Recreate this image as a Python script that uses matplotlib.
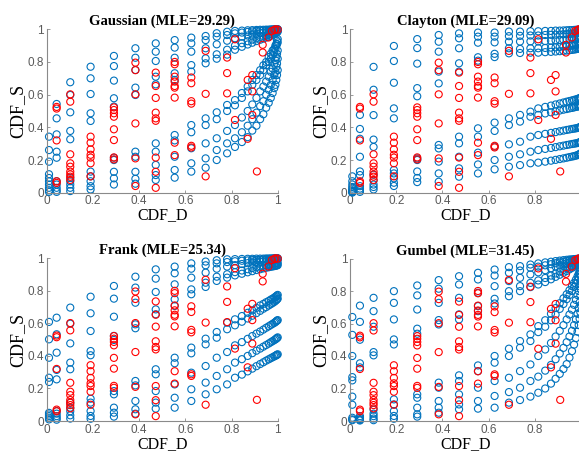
import matplotlib.pyplot as plt

# --- data ---
# x columns (empirical CDF of D) where the simulated points sit
x_cols = [0.01, 0.043, 0.102, 0.19, 0.291, 0.384, 0.472, 0.554, 0.626, 0.688, 0.736, 0.781, 0.815,
          0.845, 0.87, 0.89, 0.908, 0.924, 0.938, 0.95, 0.961, 0.97, 0.978, 0.985, 0.99, 0.994, 0.997, 1.0]

# simulated CDF_S values, one row per band, one value per x column
gaussian_sim = [
    [0.343, 0.543, 0.676, 0.771, 0.837, 0.884, 0.914, 0.934, 0.949, 0.959, 0.976, 0.985, 0.99,
     0.992, 0.994, 0.995, 0.996, 0.997, 0.997, 0.998, 0.998, 0.999, 0.999, 0.999, 1.0, 1.0, 1.0, 1.0],
    [0.261, 0.455, 0.598, 0.70, 0.775, 0.826, 0.863, 0.888, 0.914, 0.934, 0.955, 0.965, 0.975,
     0.98, 0.984, 0.987, 0.99, 0.992, 0.993, 0.994, 0.995, 0.996, 0.997, 0.998, 0.998, 0.999, 0.999, 1.0],
    [0.19, 0.357, 0.492, 0.604, 0.686, 0.751, 0.806, 0.826, 0.863, 0.884, 0.908, 0.93, 0.945,
     0.955, 0.962, 0.968, 0.973, 0.977, 0.98, 0.983, 0.986, 0.988, 0.99, 0.992, 0.994, 0.995, 0.997, 0.998],
    [0.113, 0.251, 0.378, 0.486, 0.578, 0.643, 0.71, 0.731, 0.781, 0.822, 0.847, 0.875, 0.90,
     0.915, 0.927, 0.937, 0.945, 0.952, 0.958, 0.963, 0.968, 0.972, 0.976, 0.98, 0.983, 0.986, 0.989, 0.992],
    [0.09, 0.214, 0.327, 0.439, 0.527, 0.598, 0.663, 0.69, 0.741, 0.792, 0.82, 0.845, 0.875,
     0.893, 0.907, 0.918, 0.928, 0.936, 0.943, 0.95, 0.955, 0.96, 0.965, 0.97, 0.974, 0.978, 0.982, 0.986],
    [0.07, 0.07, 0.09, 0.129, 0.214, 0.251, 0.302, 0.353, 0.414, 0.455, 0.492, 0.537, 0.567,
     0.61, 0.65, 0.69, 0.72, 0.75, 0.78, 0.80, 0.83, 0.85, 0.87, 0.88, 0.90, 0.91, 0.93, 0.94],
    [0.05, 0.05, 0.07, 0.10, 0.20, 0.22, 0.251, 0.32, 0.37, 0.414, 0.45, 0.50, 0.535,
     0.58, 0.62, 0.66, 0.69, 0.72, 0.75, 0.78, 0.80, 0.82, 0.84, 0.86, 0.88, 0.90, 0.91, 0.92],
    [0.03, 0.03, 0.05, 0.07, 0.128, 0.128, 0.17, 0.22, 0.272, 0.302, 0.333, 0.378, 0.414,
     0.46, 0.50, 0.54, 0.58, 0.62, 0.65, 0.68, 0.71, 0.74, 0.76, 0.79, 0.81, 0.83, 0.85, 0.87],
    [0.015, 0.015, 0.03, 0.04, 0.088, 0.085, 0.108, 0.139, 0.18, 0.21, 0.261, 0.302, 0.333,
     0.37, 0.41, 0.45, 0.49, 0.53, 0.56, 0.60, 0.63, 0.66, 0.69, 0.72, 0.74, 0.77, 0.79, 0.82],
    [0.005, 0.005, 0.01, 0.02, 0.05, 0.055, 0.078, 0.092, 0.129, 0.153, 0.20, 0.241, 0.28,
     0.31, 0.34, 0.38, 0.41, 0.45, 0.48, 0.52, 0.55, 0.58, 0.61, 0.64, 0.66, 0.69, 0.72, 0.75],
]

clayton_sim = [
    [0.10, 0.476, 0.77, 0.898, 0.94, 0.965, 0.975, 0.98, 0.98, 0.986, 0.986, 0.988, 0.988,
     0.99, 0.99, 0.992, 0.992, 0.993, 0.994, 0.995, 0.995, 0.996, 0.997, 0.997, 0.998, 0.999, 0.999, 1.0],
    [0.07, 0.39, 0.63, 0.806, 0.885, 0.924, 0.945, 0.955, 0.955, 0.958, 0.96, 0.962, 0.962,
     0.965, 0.966, 0.967, 0.968, 0.97, 0.97, 0.972, 0.973, 0.975, 0.976, 0.977, 0.978, 0.98, 0.982, 0.985],
    [0.05, 0.33, 0.475, 0.673, 0.79, 0.863, 0.884, 0.918, 0.92, 0.924, 0.925, 0.926, 0.926,
     0.928, 0.93, 0.932, 0.934, 0.936, 0.938, 0.94, 0.942, 0.944, 0.946, 0.948, 0.95, 0.952, 0.954, 0.956],
    [0.035, 0.22, 0.325, 0.516, 0.64, 0.741, 0.792, 0.829, 0.85, 0.884, 0.88, 0.884, 0.884,
     0.886, 0.888, 0.89, 0.892, 0.894, 0.896, 0.898, 0.9, 0.902, 0.904, 0.906, 0.908, 0.91, 0.912, 0.914],
    [0.025, 0.13, 0.28, 0.455, 0.59, 0.669, 0.741, 0.808, 0.83, 0.853, 0.855, 0.857, 0.857,
     0.86, 0.862, 0.864, 0.866, 0.868, 0.87, 0.872, 0.874, 0.876, 0.878, 0.88, 0.882, 0.884, 0.886, 0.888],
    [0.015, 0.108, 0.11, 0.139, 0.21, 0.292, 0.343, 0.394, 0.429, 0.455, 0.476, 0.496, 0.516,
     0.525, 0.533, 0.54, 0.546, 0.552, 0.557, 0.561, 0.565, 0.568, 0.571, 0.574, 0.576, 0.578, 0.58, 0.582],
    [0.01, 0.04, 0.075, 0.118, 0.20, 0.271, 0.302, 0.343, 0.378, 0.414, 0.435, 0.465, 0.476,
     0.485, 0.492, 0.498, 0.503, 0.508, 0.512, 0.516, 0.519, 0.522, 0.525, 0.527, 0.529, 0.531, 0.533, 0.535],
    [0.006, 0.025, 0.05, 0.088, 0.13, 0.19, 0.22, 0.245, 0.282, 0.296, 0.312, 0.343, 0.353,
     0.36, 0.366, 0.371, 0.376, 0.38, 0.384, 0.387, 0.39, 0.392, 0.394, 0.396, 0.398, 0.4, 0.402, 0.404],
    [0.003, 0.015, 0.035, 0.061, 0.09, 0.118, 0.149, 0.173, 0.20, 0.22, 0.235, 0.251, 0.261,
     0.268, 0.274, 0.279, 0.284, 0.288, 0.292, 0.295, 0.298, 0.3, 0.302, 0.304, 0.306, 0.308, 0.31, 0.312],
    [0.001, 0.005, 0.02, 0.041, 0.065, 0.067, 0.098, 0.118, 0.143, 0.159, 0.169, 0.18, 0.184,
     0.19, 0.196, 0.201, 0.206, 0.21, 0.214, 0.218, 0.221, 0.224, 0.227, 0.23, 0.233, 0.236, 0.239, 0.242],
]

frank_sim = [
    [0.609, 0.635, 0.697, 0.764, 0.83, 0.887, 0.932, 0.949, 0.969, 0.98, 0.988, 0.994, 0.995,
     0.996, 0.997, 0.997, 0.998, 0.998, 0.998, 0.999, 0.999, 0.999, 0.999, 1.0, 1.0, 1.0, 1.0, 1.0],
    [0.502, 0.533, 0.598, 0.662, 0.752, 0.82, 0.875, 0.908, 0.936, 0.957, 0.969, 0.977, 0.982,
     0.985, 0.987, 0.989, 0.99, 0.991, 0.992, 0.993, 0.994, 0.995, 0.996, 0.996, 0.997, 0.997, 0.998, 0.998],
    [0.389, 0.42, 0.477, 0.553, 0.641, 0.727, 0.793, 0.84, 0.881, 0.912, 0.936, 0.949, 0.958,
     0.965, 0.97, 0.974, 0.977, 0.979, 0.981, 0.983, 0.984, 0.985, 0.986, 0.987, 0.988, 0.989, 0.99, 0.99],
    [0.266, 0.314, 0.359, 0.43, 0.523, 0.594, 0.686, 0.748, 0.809, 0.85, 0.887, 0.902, 0.915,
     0.925, 0.933, 0.94, 0.945, 0.95, 0.954, 0.957, 0.96, 0.962, 0.964, 0.966, 0.968, 0.969, 0.97, 0.971],
    [0.24, 0.256, 0.318, 0.404, 0.498, 0.57, 0.656, 0.707, 0.779, 0.824, 0.861, 0.881, 0.895,
     0.905, 0.914, 0.921, 0.928, 0.933, 0.938, 0.942, 0.945, 0.948, 0.95, 0.952, 0.954, 0.956, 0.957, 0.958],
    [0.05, 0.061, 0.113, 0.137, 0.184, 0.246, 0.318, 0.389, 0.451, 0.506, 0.547, 0.605, 0.625,
     0.645, 0.665, 0.68, 0.695, 0.71, 0.72, 0.73, 0.738, 0.746, 0.752, 0.758, 0.763, 0.767, 0.771, 0.775],
    [0.04, 0.045, 0.082, 0.113, 0.164, 0.219, 0.287, 0.355, 0.416, 0.471, 0.512, 0.564, 0.588,
     0.61, 0.63, 0.647, 0.663, 0.677, 0.69, 0.7, 0.71, 0.718, 0.725, 0.732, 0.738, 0.743, 0.748, 0.752],
    [0.03, 0.03, 0.06, 0.061, 0.082, 0.123, 0.184, 0.225, 0.297, 0.338, 0.389, 0.424, 0.465,
     0.485, 0.505, 0.522, 0.537, 0.55, 0.562, 0.573, 0.582, 0.59, 0.597, 0.603, 0.608, 0.613, 0.617, 0.62],
    [0.02, 0.018, 0.035, 0.031, 0.051, 0.072, 0.113, 0.143, 0.195, 0.236, 0.277, 0.318, 0.359,
     0.38, 0.4, 0.417, 0.432, 0.445, 0.457, 0.467, 0.476, 0.484, 0.491, 0.497, 0.502, 0.506, 0.51, 0.514],
    [0.01, 0.008, 0.015, 0.014, 0.027, 0.045, 0.076, 0.082, 0.123, 0.164, 0.195, 0.225, 0.266,
     0.285, 0.305, 0.322, 0.337, 0.35, 0.361, 0.371, 0.379, 0.386, 0.392, 0.397, 0.401, 0.404, 0.407, 0.41],
]

gumbel_sim = [
    [0.64, 0.71, 0.758, 0.799, 0.834, 0.867, 0.891, 0.912, 0.932, 0.947, 0.953, 0.963, 0.97,
     0.976, 0.98, 0.984, 0.987, 0.99, 0.992, 0.994, 0.995, 0.996, 0.997, 0.998, 0.999, 0.999, 1.0, 1.0],
    [0.53, 0.61, 0.676, 0.727, 0.773, 0.814, 0.84, 0.871, 0.895, 0.912, 0.926, 0.943, 0.95,
     0.958, 0.965, 0.971, 0.976, 0.98, 0.984, 0.987, 0.99, 0.992, 0.994, 0.995, 0.996, 0.997, 0.998, 0.999],
    [0.40, 0.50, 0.58, 0.625, 0.686, 0.727, 0.758, 0.789, 0.83, 0.861, 0.881, 0.902, 0.915,
     0.928, 0.94, 0.95, 0.958, 0.965, 0.971, 0.976, 0.98, 0.984, 0.987, 0.99, 0.992, 0.994, 0.996, 0.998],
    [0.27, 0.355, 0.424, 0.502, 0.568, 0.621, 0.656, 0.707, 0.752, 0.799, 0.83, 0.85, 0.865,
     0.88, 0.895, 0.908, 0.92, 0.93, 0.94, 0.948, 0.956, 0.963, 0.969, 0.975, 0.98, 0.985, 0.99, 0.994],
    [0.25, 0.33, 0.404, 0.471, 0.537, 0.594, 0.625, 0.676, 0.723, 0.768, 0.799, 0.824, 0.84,
     0.855, 0.872, 0.887, 0.9, 0.912, 0.923, 0.933, 0.942, 0.95, 0.958, 0.965, 0.971, 0.977, 0.983, 0.989],
    [0.15, 0.03, 0.07, 0.133, 0.164, 0.236, 0.281, 0.342, 0.40, 0.445, 0.492, 0.533, 0.584,
     0.62, 0.66, 0.695, 0.725, 0.755, 0.78, 0.805, 0.83, 0.85, 0.87, 0.89, 0.905, 0.92, 0.94, 0.955],
    [0.10, 0.02, 0.045, 0.102, 0.143, 0.205, 0.246, 0.307, 0.359, 0.40, 0.451, 0.492, 0.547,
     0.58, 0.62, 0.655, 0.69, 0.72, 0.75, 0.775, 0.8, 0.825, 0.845, 0.865, 0.885, 0.905, 0.925, 0.945],
    [0.02, 0.012, 0.03, 0.061, 0.082, 0.123, 0.164, 0.205, 0.246, 0.266, 0.307, 0.348, 0.40,
     0.44, 0.48, 0.52, 0.555, 0.59, 0.625, 0.655, 0.685, 0.715, 0.745, 0.775, 0.8, 0.83, 0.86, 0.89],
    [0.01, 0.007, 0.015, 0.031, 0.041, 0.082, 0.102, 0.123, 0.154, 0.178, 0.205, 0.246, 0.273,
     0.31, 0.345, 0.38, 0.415, 0.45, 0.485, 0.52, 0.555, 0.59, 0.625, 0.66, 0.695, 0.73, 0.77, 0.81],
    [0.005, 0.003, 0.005, 0.014, 0.027, 0.051, 0.072, 0.076, 0.082, 0.113, 0.129, 0.15, 0.174,
     0.2, 0.23, 0.26, 0.29, 0.32, 0.35, 0.39, 0.43, 0.47, 0.51, 0.55, 0.59, 0.63, 0.67, 0.71],
]

# observed pairs (same in all four panels): x column and the CDF_S values in it
obs_cols = [0.043, 0.102, 0.19, 0.291, 0.384, 0.472, 0.554, 0.626, 0.688, 0.781, 0.815,
            0.87, 0.89, 0.91, 0.935, 0.96, 0.975, 0.985, 0.99, 1.0]
obs_vals = [
    [0.525, 0.515, 0.32, 0.07, 0.06],
    [0.602, 0.557, 0.235, 0.18, 0.159, 0.129, 0.112, 0.098, 0.078],
    [0.343, 0.306, 0.265, 0.232, 0.215, 0.18, 0.10],
    [0.522, 0.506, 0.486, 0.465, 0.388, 0.322, 0.216, 0.204],
    [0.796, 0.75, 0.602, 0.424, 0.21, 0.041],
    [0.735, 0.653, 0.58, 0.49, 0.455, 0.44, 0.215, 0.128, 0.03],
    [0.80, 0.786, 0.71, 0.68, 0.653, 0.643, 0.582, 0.306, 0.23],
    [0.705, 0.67, 0.56, 0.545, 0.287, 0.277],
    [0.868, 0.605, 0.10],
    [0.827, 0.732, 0.608],
    [0.939, 0.445],
    [0.69, 0.33],
    [0.72, 0.62, 0.476],
    [0.13],
    [0.905, 0.858],
    [0.95],
    [0.99],
    [0.995],
    [1.0],
    [0.998],
]

titles = ["Gaussian (MLE=29.29)", "Clayton (MLE=29.09)", "Frank (MLE=25.34)", "Gumbel (MLE=31.45)"]
sims = [gaussian_sim, clayton_sim, frank_sim, gumbel_sim]
ticks = [0, 0.2, 0.4, 0.6, 0.8, 1]
tick_labels = ["0", "0.2", "0.4", "0.6", "0.8", "1"]

# --- figure ---
W, H = 579, 453
fig = plt.figure(figsize=(W / 100, H / 100), dpi=100)

# axes boxes in pixels: left, top of y=1, width, height
boxes = [(46.7, 29.3, 231, 163.4), (350, 29.3, 231, 163.4),
         (46.7, 258.3, 231, 162.7), (350, 258.5, 231, 162.5)]

blue = "#0072BD"
red = "#FF0000"
gray = "#5a5a5a"

for k in range(4):
    l, t, w, h = boxes[k]
    ax = fig.add_axes([l / W, 1 - (t + h) / H, w / W, h / H])
    for row in sims[k]:
        ax.scatter(x_cols, row, s=26, facecolors="none", edgecolors=blue,
                   linewidths=0.8, clip_on=False, zorder=2)
    for c in range(len(obs_cols)):
        xs = [obs_cols[c]] * len(obs_vals[c])
        ax.scatter(xs, obs_vals[c], s=26, facecolors="none", edgecolors=red,
                   linewidths=0.8, clip_on=False, zorder=3)
    ax.set_xlim(0, 1)
    ax.set_ylim(0, 1)
    ax.set_xticks(ticks)
    ax.set_xticklabels(tick_labels)
    ax.set_yticks(ticks)
    ax.set_yticklabels(tick_labels)
    ax.spines["top"].set_visible(False)
    ax.spines["right"].set_visible(False)
    ax.spines["left"].set_color("#8a8a8a")
    ax.spines["bottom"].set_color("#8a8a8a")
    ax.tick_params(direction="in", length=2.5, width=0.6, color="#8a8a8a",
                   labelcolor=gray, labelsize=8.5, pad=2)
    for lab in ax.get_xticklabels() + ax.get_yticklabels():
        lab.set_family("Liberation Sans")
    ax.set_xlabel("CDF_D", family="Liberation Serif", fontsize=11.5, labelpad=0)
    ax.set_ylabel("CDF_S", family="Liberation Serif", fontsize=13, labelpad=1)
    ax.set_title(titles[k], family="Liberation Serif", fontweight="bold", fontsize=10.5, pad=3)

plt.savefig("out.png", dpi=100)
